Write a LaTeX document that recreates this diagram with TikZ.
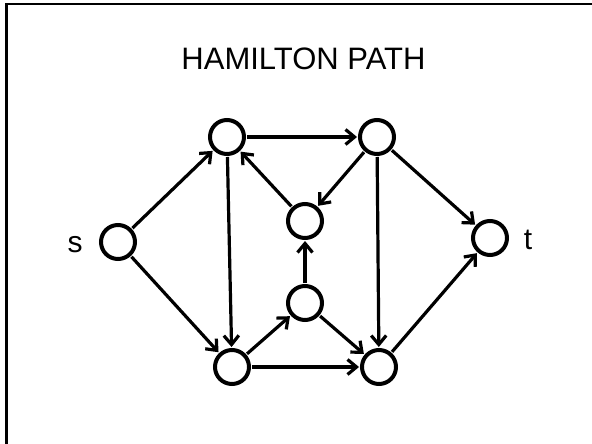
\documentclass[tikz,border=0pt]{standalone}
\usepackage{fontspec}
\setmainfont{Liberation Sans}
\usepackage{xcolor}
\usepackage{tikz}
\usetikzlibrary{positioning,arrows.meta}
\definecolor{ink}{HTML}{000000}
\tikzset{
  vertex/.style={circle, draw=ink, line width=4pt, minimum size=34pt, inner sep=0pt, outer sep=3pt},
  arc/.style={draw=ink, line width=3.2pt, -{Straight Barb[length=9pt,width=15pt]}},
  vlabel/.style={font=\fontsize{30}{36}\selectfont, text=ink}
}
\begin{document}
\begin{tikzpicture}[x=1pt, y=-1pt]
  \useasboundingbox (0,0) rectangle (592,444);
  % frame
  \draw[ink, line width=2.2pt] (6.5,444) -- (6.5,4) -- (592,4);
  \node[vlabel, font=\fontsize{31}{37}\selectfont, anchor=base] (title) at (303.5,70) {HAMILTON PATH};

  % vertices
  \node[vertex] (s)  at (118,242) {};
  \node[vertex] (ul) at (227,137) {};
  \node[vertex] (ur) at (377,137) {};
  \node[vertex] (mu) at (305,221) {};
  \node[vertex] (ml) at (305,303) {};
  \node[vertex] (ll) at (232,367) {};
  \node[vertex] (lr) at (379,367) {};
  \node[vertex] (t)  at (490,238) {};
  \node[vlabel, anchor=base] (slabel) at (75,252) {s};
  \node[vlabel, anchor=base] (tlabel) at (528,249) {t};

  % arcs
  \draw[arc] (s) -- (ul);
  \draw[arc] (s) -- (ll);
  \draw[arc] (ul) -- (ur);
  \draw[arc] (ul) -- (ll);
  \draw[arc] (ur) -- (mu);
  \draw[arc] (ur) -- (lr);
  \draw[arc] (ur) -- (t);
  \draw[arc] (mu) -- (ul);
  \draw[arc] (ml) -- (mu);
  \draw[arc] (ll) -- (ml);
  \draw[arc] (ll) -- (lr);
  \draw[arc] (ml) -- (lr);
  \draw[arc] (lr) -- (t);
\end{tikzpicture}
\end{document}
